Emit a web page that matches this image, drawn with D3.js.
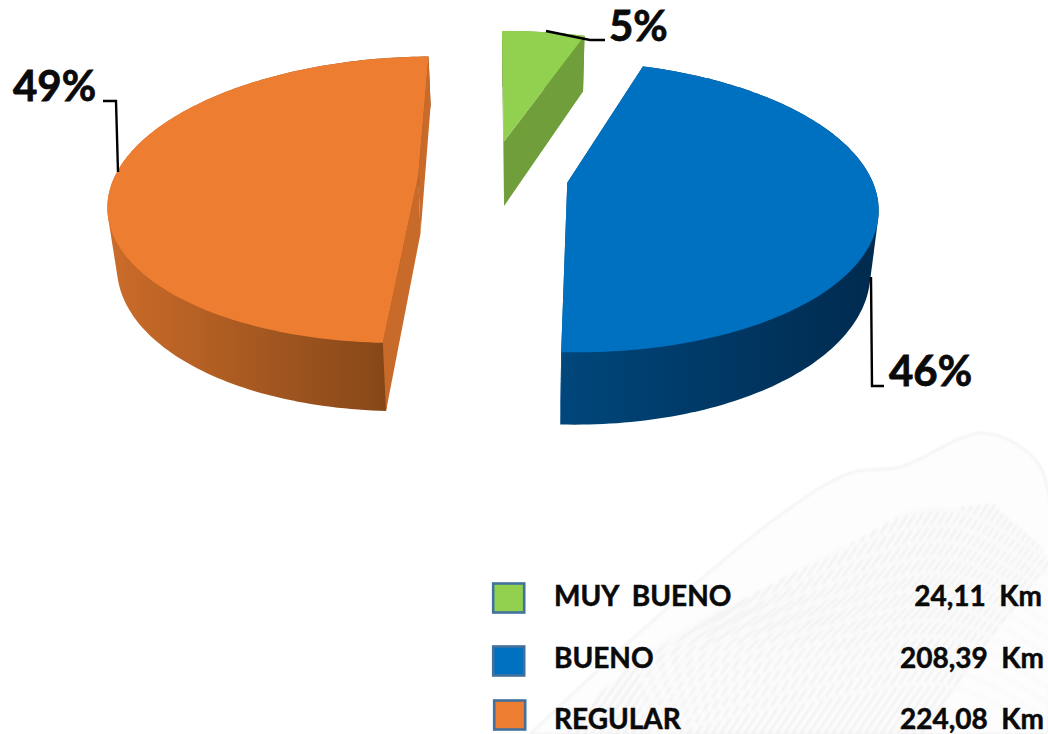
<!DOCTYPE html>
<html>
<head>
<meta charset="utf-8">
<script src="https://cdn.jsdelivr.net/npm/d3@7"></script>
<style>
  html, body { margin: 0; padding: 0; background: #fff; }
  svg { display: block; }
  text { font-family: Lato, "Open Sans", sans-serif; font-weight: 700; fill: #0a0a0a; stroke: #0a0a0a; }
</style>
</head>
<body>
<div id="chart"></div>
<script>
(function () {
    'use strict';

    const categories = ["MUY  BUENO", "BUENO", "REGULAR"];
    const kms = [24.11, 208.39, 224.08];
    const colors = ["#92D050", "#0070C0", "#ED7D31"];
    const faceColors = ["#6F9E3B", "#005490", "#C86A2A"];
    const wallStops = [
        ["#6F9E3B", "#6F9E3B"],
        ["#00467A", "#002A4E"],
        ["#CC6C2A", "#854718"]
    ];

    const width = 1048;
    const height = 734;

    // where each slice was pulled out to, world units
    const offsetX = [-17, 47, -102];
    const offsetZ = [82, -10, 4];
    const depths = [67, 60, 57];

    // label positions and leader lines
    const labelAnchors = [[609, 41], [889, 386], [13, 101]];
    const leaders = [
        [[546, 31], [590, 40], [605, 40]],
        [[871, 277], [872, 386], [884, 386]],
        [[103, 101], [116, 101], [118, 172]]
    ];

    const legendRows = [598, 661, 715];
    const legendBaselines = [606, 668, 729];
    const legendBoxX = [492, 492, 493];
    const valueEnds = [1042, 1044, 1044];

    const svg = d3.select("#chart").append("svg")
        .attr("width", width)
        .attr("height", height)
        .attr("viewBox", `0 0 ${width} ${height}`);

    const defs = svg.append("defs");

    // ---- watermark wing, very faint ----
    defs.append("filter").attr("id", "soft")
        .append("feGaussianBlur").attr("stdDeviation", 1.3);

    const wm = svg.append("g").attr("class", "watermark").attr("filter", "url(#soft)");
    const outline = [[530, 734], [620, 650], [700, 580], [787, 510], [850, 473], [900, 467], [983, 433], [1033, 457], [1048, 490], [1048, 734]];
    const inner = [[560, 734], [650, 650], [760, 590], [866, 535], [930, 500], [977, 493], [1010, 520], [1048, 560], [1048, 734]];
    const curve = d3.line().curve(d3.curveCatmullRom);
    wm.append("path").attr("d", curve(outline) + "Z")
        .attr("fill", "#fdfdfd").attr("stroke", "#f1f1f1").attr("stroke-width", 2);

    defs.append("clipPath").attr("id", "wingClip")
        .append("path").attr("d", curve(inner) + "Z");
    const feathers = wm.append("g").attr("clip-path", "url(#wingClip)");
    d3.range(0, 62).forEach(i => {
        const sx = 1100 - i * 8;
        feathers.append("path")
            .attr("d", curve([[sx, 490 + i], [sx - 50, 560 + i], [sx - 120, 650], [sx - 190, 750]]))
            .attr("fill", "none")
            .attr("stroke", "#f0f0f0")
            .attr("stroke-width", 2.5);
    });
    d3.range(0, 12).forEach(i => {
        feathers.append("path")
            .attr("d", curve([[640, 650 + i * 8], [820, 545 + i * 14], [950, 510 + i * 16], [1048, 560 + i * 16]]))
            .attr("fill", "none")
            .attr("stroke", "#fafafa")
            .attr("stroke-width", 4);
    });

    // ---- pie, perspective projected by hand ----
    const pie = d3.pie().sort(null)
        .startAngle(-0.9 * Math.PI / 180)
        .endAngle((360 - 0.9) * Math.PI / 180);
    const arcs = pie(kms);

    const xc = 520, yc = 178;
    const R = 304, K = 140, p = 0.165;
    const shrink = 0.977;

    function project(X, Z, bottom, i) {
        const s = 1 / (1 + p * Z / R);
        const x = X * s, y = -K * (Z / R) * s;
        return bottom
            ? [xc + x * shrink, yc + y + depths[i] * s]
            : [xc + x, yc + y];
    }

    function rim(i, a0, a1, bottom) {
        const n = Math.max(2, Math.ceil(Math.abs(a1 - a0) / 0.02));
        return d3.range(n + 1).map(k => {
            const t = a0 + (a1 - a0) * k / n;
            return project(offsetX[i] + R * Math.sin(t), offsetZ[i] + R * Math.cos(t), bottom, i);
        });
    }

    const line = d3.line();
    const slices = svg.append("g").attr("class", "slices");

    arcs.forEach((d, i) => {
        const g = slices.append("g");
        const apexTop = project(offsetX[i], offsetZ[i], false, i);
        const apexBot = project(offsetX[i], offsetZ[i], true, i);
        const topRim = rim(i, d.startAngle, d.endAngle, false);
        const botRim = rim(i, d.startAngle, d.endAngle, true);

        const ext = d3.extent(topRim, q => q[0]);
        const grad = defs.append("linearGradient")
            .attr("id", "wall" + i)
            .attr("gradientUnits", "userSpaceOnUse")
            .attr("x1", i === 1 ? apexTop[0] : ext[0]).attr("y1", 0)
            .attr("x2", i === 1 ? ext[1] : ext[1] - 40).attr("y2", 0);
        grad.append("stop").attr("offset", 0).attr("stop-color", wallStops[i][0]);
        grad.append("stop").attr("offset", 1).attr("stop-color", wallStops[i][1]);

        // outer wall, hull so the silhouette runs tangent from top to bottom rim
        g.append("path")
            .attr("d", line(d3.polygonHull(topRim.concat(botRim))) + "Z")
            .attr("fill", `url(#wall${i})`);

        // cut faces
        const first = 0, last = topRim.length - 1;
        [first, last].forEach(e => {
            g.append("path")
                .attr("d", line([apexTop, topRim[e], botRim[e], apexBot]) + "Z")
                .attr("fill", faceColors[i]);
        });

        // top
        g.append("path")
            .attr("d", line([apexTop].concat(topRim)) + "Z")
            .attr("fill", colors[i]);
    });

    // ---- leaders + percent labels ----
    const total = d3.sum(kms);
    const pct = d3.format(".0%");
    const labels = svg.append("g");
    arcs.forEach((d, i) => {
        labels.append("path")
            .attr("d", line(leaders[i]))
            .attr("fill", "none")
            .attr("stroke", "#000")
            .attr("stroke-width", 2.4);
        labels.append("text")
            .attr("x", labelAnchors[i][0])
            .attr("y", labelAnchors[i][1])
            .attr("font-size", 42)
            .attr("stroke-width", 0.8)
            .text(pct(d.value / total));
    });

    // ---- legend ----
    const esFormat = d3.formatLocale({ decimal: ",", thousands: ".", grouping: [3], currency: ["", ""] }).format(".2f");
    const legend = svg.append("g");
    categories.forEach((c, i) => {
        legend.append("rect")
            .attr("x", legendBoxX[i] + 1.2)
            .attr("y", legendRows[i] - 14.5)
            .attr("width", 31)
            .attr("height", 29)
            .attr("fill", colors[i])
            .attr("stroke", "#41719C")
            .attr("stroke-width", 2.6);
        legend.append("text")
            .attr("x", 554)
            .attr("y", legendBaselines[i])
            .attr("font-size", 28)
            .attr("stroke-width", 0.5)
            .style("white-space", "pre")
            .text(c);
        legend.append("text")
            .attr("x", valueEnds[i])
            .attr("y", legendBaselines[i])
            .attr("font-size", 28)
            .attr("stroke-width", 0.5)
            .attr("text-anchor", "end")
            .style("white-space", "pre")
            .text(esFormat(kms[i]) + "  Km");
    });
})();
</script>
</body>
</html>
